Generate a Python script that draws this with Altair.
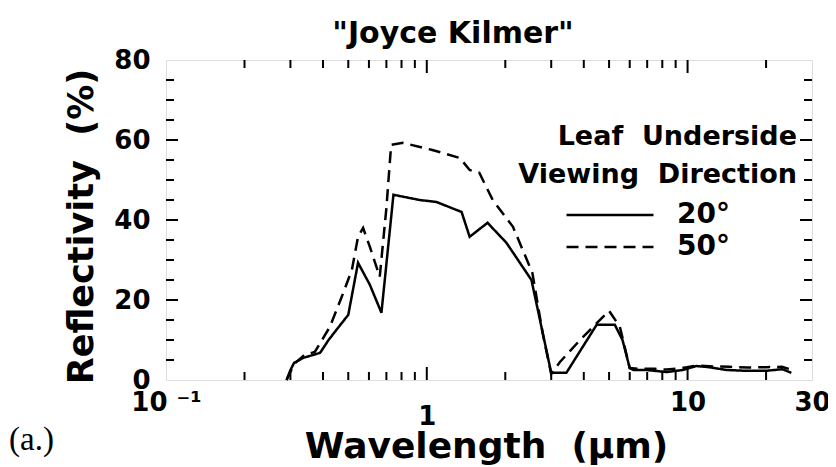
import altair as alt
import pandas as pd

# ---- data ----
wl_20 = [0.29, 0.30, 0.31, 0.335, 0.39, 0.42, 0.46, 0.50, 0.545, 0.605, 0.67, 0.745,
         0.94, 1.09, 1.36, 1.46, 1.71, 2.02, 2.52, 3.0, 3.43, 4.48, 5.26, 5.63, 6.0,
         6.2, 6.97, 8.3, 9.6, 10.8, 12.1, 14.1, 16.8, 20.0, 23.1, 25.0]
refl_20 = [0.0, 2.5, 4.3, 5.5, 6.8, 10.0, 13.3, 16.3, 29.3, 23.8, 16.8, 46.3,
           45.0, 44.5, 42.0, 35.8, 39.3, 34.3, 25.0, 1.8, 1.8, 13.8, 13.8, 10.0, 3.0,
           2.5, 2.5, 2.0, 2.5, 3.5, 3.2, 2.5, 2.3, 2.3, 2.7, 1.8]

wl_50 = [0.29, 0.31, 0.34, 0.372, 0.425, 0.472, 0.516, 0.545, 0.57, 0.605, 0.66, 0.70,
         0.73, 0.81, 1.05, 1.34, 1.46, 1.59, 1.79, 2.14, 2.54, 2.78, 3.0, 3.24, 3.87,
         5.0, 5.5, 6.0, 6.5, 7.5, 8.3, 9.5, 10.8, 12.5, 14.5, 17.0, 20.0, 23.0, 25.0]
refl_50 = [0.0, 4.0, 6.3, 7.0, 13.3, 20.8, 27.5, 35.8, 38.0, 33.3, 25.8, 43.0,
           58.8, 59.3, 57.5, 55.5, 52.5, 51.8, 45.0, 38.3, 26.8, 11.8, 1.5, 4.5, 10.0,
           17.3, 13.3, 3.0, 2.8, 2.8, 2.6, 3.0, 3.6, 3.4, 3.3, 3.1, 3.2, 3.3, 2.6]

series_names = ["20°", "50°"]
x_tick_values = [0.1, 1, 10, 30]
x_tick_labels = ["10 ⁻¹", "1", "10", "30"]
y_tick_values = [0, 20, 40, 60, 80]
x_minor = [0.2, 0.3, 0.4, 0.5, 0.6, 0.7, 0.8, 0.9, 2, 3, 4, 5, 6, 7, 8, 9, 20]
x_major = [1, 10]
y_minor = [5, 10, 15, 25, 30, 35, 45, 50, 55, 65, 70, 75]
y_major = [20, 40, 60]

W, H = 646, 320
FONT = "DejaVu Sans"

df = pd.concat([
    pd.DataFrame({"wl": wl_20, "refl": refl_20, "series": series_names[0]}),
    pd.DataFrame({"wl": wl_50, "refl": refl_50, "series": series_names[1]}),
])

xscale = alt.Scale(type="log", domain=[0.1, 30])
yscale = alt.Scale(domain=[0, 80])

label_map = "[" + ",".join("'%s'" % s for s in x_tick_labels) + "]"
val_map = "[" + ",".join(str(v) for v in x_tick_values) + "]"

x_axis = alt.Axis(values=x_tick_values,
                  labelExpr=f"{label_map}[indexof({val_map}, datum.value)]",
                  labelFont=FONT, labelFontSize=26, labelFontWeight="bold",
                  labelColor="black", labelFlush=False, labelOverlap=False,
                  labelPadding={"condition": {"test": "datum.value == 1", "value": 23},
                                "value": 9},
                  ticks=False, domain=False, grid=False,
                  title="Wavelength\u00a0 (µm)", titleFont=FONT,
                  titleFontSize=36, titleFontWeight="bold", titleColor="black",
                  titleX=320, titleY=77, titleBaseline="alphabetic")
y_axis = alt.Axis(values=y_tick_values, labelFont=FONT, labelFontSize=26,
                  labelFontWeight="bold", labelColor="black", labelPadding=16,
                  labelFlush=False, labelOverlap=False,
                  ticks=False, domain=False, grid=False,
                  title="Reflectivity\u00a0 (%)", titleFont=FONT,
                  titleFontSize=35, titleFontWeight="bold", titleColor="black",
                  titleX=-74, titleY=166, titleBaseline="alphabetic")

lines = alt.Chart(df).mark_line(strokeWidth=2.5, color="black").encode(
    x=alt.X("wl:Q", scale=xscale, axis=x_axis),
    y=alt.Y("refl:Q", scale=yscale, axis=y_axis),
    strokeDash=alt.StrokeDash("series:N",
                              scale=alt.Scale(domain=series_names, range=[[1, 0], [12, 7]]),
                              legend=alt.Legend(title=None, orient="none", legendX=399,
                                                legendY=141, symbolType="stroke",
                                                symbolSize=7569, symbolStrokeWidth=2.5,
                                                symbolStrokeColor="black",
                                                labelFont=FONT, labelFontSize=28,
                                                labelFontWeight="bold", labelColor="black",
                                                labelOffset=22, rowPadding=4, clipHeight=28,
                                                padding=0)),
)

def tick_layer(vals, field, length, side):
    d = pd.DataFrame({field: vals})
    if field == "wl":
        enc = dict(x=alt.X("wl:Q", scale=xscale, axis=x_axis))
        if side == "bottom":
            enc.update(y=alt.value(H), y2=alt.value(H - length))
        else:
            enc.update(y=alt.value(0), y2=alt.value(length))
    else:
        enc = dict(y=alt.Y("refl:Q", scale=yscale, axis=y_axis))
        if side == "left":
            enc.update(x=alt.value(0), x2=alt.value(length))
        else:
            enc.update(x=alt.value(W), x2=alt.value(W - length))
    return alt.Chart(d).mark_rule(color="black", strokeWidth=2).encode(**enc)

ticks = [
    tick_layer(x_minor, "wl", 8, "bottom"), tick_layer(x_major, "wl", 13, "bottom"),
    tick_layer(x_minor, "wl", 8, "top"), tick_layer(x_major, "wl", 13, "top"),
    tick_layer(y_minor, "refl", 8, "left"), tick_layer(y_major, "refl", 12, "left"),
    tick_layer(y_minor, "refl", 8, "right"), tick_layer(y_major, "refl", 12, "right"),
]

legend_title1 = alt.Chart().mark_text(text="Leaf\u00a0 Underside", font=FONT, fontSize=27,
                                      fontWeight="bold", align="right",
                                      baseline="alphabetic", color="black").encode(
    x=alt.value(631), y=alt.value(85))
legend_title2 = alt.Chart().mark_text(text="Viewing\u00a0 Direction", font=FONT, fontSize=27,
                                      fontWeight="bold", align="right",
                                      baseline="alphabetic", color="black").encode(
    x=alt.value(631), y=alt.value(123))
panel_label = alt.Chart().mark_text(text="(a.)", font="Liberation Serif", fontSize=33,
                                    align="left", baseline="alphabetic",
                                    color="black").encode(
    x=alt.value(-157), y=alt.value(390))

chart = alt.layer(lines, *ticks, legend_title1, legend_title2, panel_label).properties(
    width=W, height=H,
    title=alt.TitleParams(text='"Joyce Kilmer"', font=FONT, fontSize=30,
                          fontWeight="bold", color="black", anchor="middle",
                          dx=-36, dy=12, offset=10),
    autosize=alt.AutoSizeParams(type="none"),
    padding={"left": 158, "top": 52, "right": 16, "bottom": 87},
).configure_view(stroke="black", strokeWidth=2.5).configure(background="white")

chart.save("out.html", embed_options={"renderer": "svg", "actions": False})
